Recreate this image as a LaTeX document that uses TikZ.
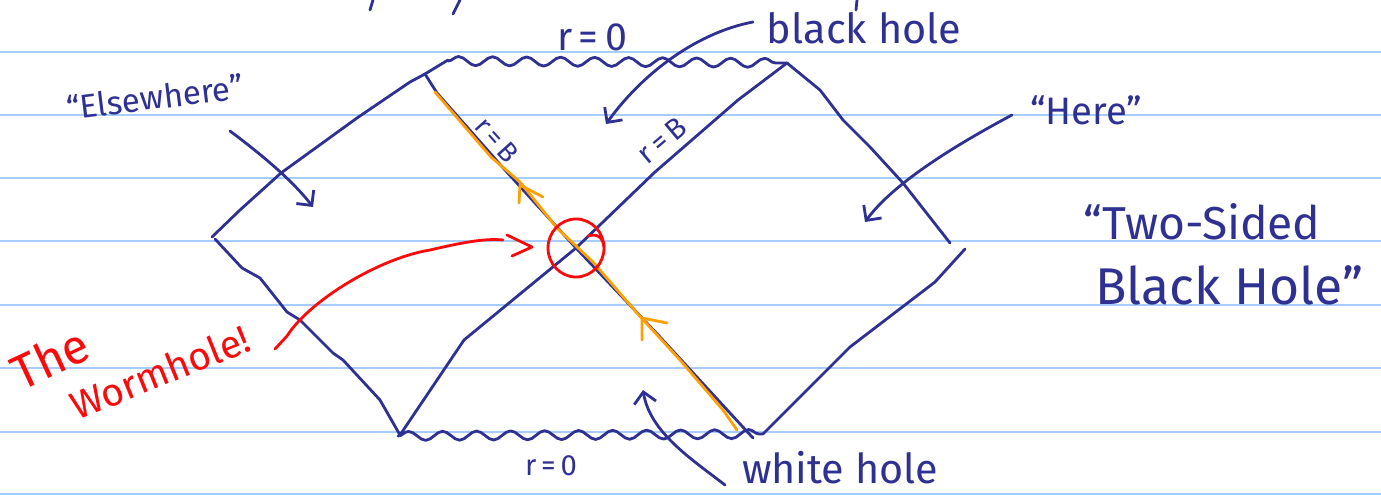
\documentclass[tikz,border=0pt]{standalone}
\usepackage{fontspec}
\setmainfont{Fira Sans}
\usetikzlibrary{decorations.pathmorphing,arrows.meta}
\definecolor{penblue}{RGB}{46,49,146}
\definecolor{penred}{RGB}{250,10,10}
\definecolor{penorange}{RGB}{255,160,0}
\definecolor{rulecol}{RGB}{165,205,255}
\begin{document}
\begin{tikzpicture}[x=1pt,y=-1pt,
  rule/.style={rulecol,line width=2.6pt},
  pen/.style={penblue,line width=2.8pt,line cap=round,line join=round},
  redpen/.style={penred,line width=2.8pt,line cap=round,line join=round},
  orpen/.style={penorange,line width=2.8pt,line cap=round,line join=round},
  wavy/.style={pen,decorate,decoration={snake,segment length=34pt,amplitude=4.5pt}},
  hand/.style={inner sep=0pt,text=penblue},
  redhand/.style={inner sep=0pt,text=penred},
  barb/.style={-{Straight Barb[length=11pt,width=22pt,line width=2.8pt]}}]
\useasboundingbox (0,0) rectangle (1381,495);
\fill[white] (0,0) rectangle (1381,495);
% ruled paper
\foreach \yy in {52,115,178,241,305,368,432,494}
  \draw[rule] (0,\yy) -- (1381,\yy);
% cut-off strokes at the top
\draw[pen] (370,10) -- (373,0);
\draw[pen] (453,14) -- (460,0);
\draw[pen] (856,10) -- (857,0);
% vertices
\coordinate (L) at (212,237);
\coordinate (TL) at (425,74);
\coordinate (TR) at (787,63);
\coordinate (R) at (950,243);
\coordinate (R2) at (965,249);
\coordinate (BL) at (400,435);
\coordinate (BR) at (763,434);
\coordinate (X) at (576,248);
% outer sides
\draw[pen] (L) -- (240,210) -- (281,173) -- (357,118) -- (410,82) -- (TL);
\draw[pen] (TR) -- (820,90) -- (843,120) -- (870,147) -- (903,183) -- (R);
\draw[pen] (R2) -- (935,282) -- (850,347) -- (BR);
\draw[pen] (215,239) -- (242,268) -- (260,278) -- (287,312) -- (300,320) -- (333,353) -- (343,360) -- (380,400) -- (BL);
% horizons
\draw[pen] (TL) -- (437,93) -- (505,170) -- (X) -- (660,337) -- (753,438);
\draw[pen] (BL) -- (464,340) -- (X) -- (655,172) -- (738,100) -- (TR);
% singularities
\draw[pen] (TL) -- (448,60);
\draw[wavy] (448,61) -- (TR);
\draw[wavy] (398,436) -- (BR);
% orange worldline
\draw[orpen] (435,92) -- (491,157) -- (520,182) -- (557,228) -- (593,262) -- (637,313) -- (680,360) -- (723,410) -- (737,430);
\draw[orpen] (519,203) -- (520,185) -- (543,197);
\draw[orpen] (642,340) -- (642,318) -- (667,323);
% red circle
\draw[redpen] (X) ellipse [x radius=28, y radius=29];
\draw[redpen] (588,236) .. controls (598,233) and (603,238) .. (604,247);
% labels
\node[hand] (rtop) at (592,37) {\resizebox{70pt}{!}{r\,=\,0}};
\node[hand] (rbot) at (551,466) {\resizebox{52pt}{!}{r\,=\,0}};
\node[hand,rotate=-48] (rB1) at (497,140) {\resizebox{50pt}{!}{r\,=\,B}};
\node[hand,rotate=40] (rB2) at (662,140) {\resizebox{54pt}{!}{r\,=\,B}};
\node[hand] (bh) at (864,28) {\resizebox{194pt}{!}{black hole}};
\node[hand,rotate=7] (else) at (155,97) {\resizebox{178pt}{!}{“Elsewhere”}};
\node[hand] (here) at (1086,110) {\resizebox{112pt}{!}{“Here”}};
\node[hand] (two) at (1202,222) {\resizebox{237pt}{!}{“Two-Sided}};
\node[hand] (bhole) at (1229,285) {\resizebox{268pt}{!}{Black Hole”}};
\node[hand] (wh) at (840,468) {\resizebox{196pt}{!}{white hole}};
\node[redhand,rotate=25] (the) at (50,358) {\resizebox{80pt}{!}{The}};
\node[redhand,rotate=22] (worm) at (160,372) {\resizebox{190pt}{!}{Wormhole!}};
% arrows
\coordinate (bhs) at (753,22);  \coordinate (bht) at (606,124);
\coordinate (els) at (230,131); \coordinate (elt) at (313,207);
\coordinate (hes) at (1012,115);\coordinate (het) at (865,222);
\coordinate (whs) at (725,485); \coordinate (wht) at (643,390);
\draw[pen,barb] (bhs) .. controls (700,32) and (645,70) .. (bht);
\draw[pen,barb] (els) .. controls (262,155) and (292,180) .. (elt);
\draw[pen,barb] (hes) .. controls (950,148) and (892,185) .. (het);
\draw[pen,barb] (whs) .. controls (690,458) and (650,432) .. (wht);
\coordinate (wms) at (275,349);
\coordinate (wme) at (503,240);
\draw[redpen] (wms) -- (287,336) .. controls (310,300) and (380,258) .. (430,250) .. controls (460,243) and (485,238) .. (wme);
\draw[redpen] (507,235) -- (532,247) -- (512,256);
\end{tikzpicture}
\end{document}
